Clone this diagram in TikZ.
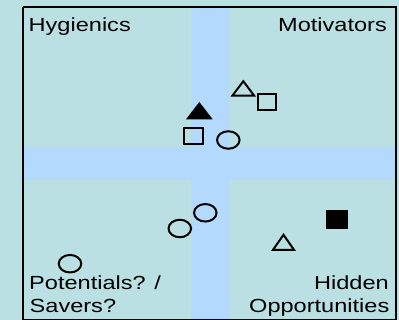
\documentclass[tikz,border=0pt]{standalone}
\usepackage{fontspec}
\setmainfont{Liberation Sans}
\usepackage{graphicx}
\definecolor{paneteal}{RGB}{186,224,227}
\definecolor{bandblue}{RGB}{179,217,252}
\newcommand{\widelabel}[1]{\scalebox{1.24}[1]{#1}}
\tikzset{
  quadlabel/.style={inner sep=0pt, font=\fontsize{19}{23}\selectfont, text=black},
  outline/.style={draw=black, line width=2pt},
  solid shape/.style={fill=black},
  framing/.style={line width=2pt},
}
\begin{document}
\begin{tikzpicture}[x=1pt, y=-1pt]
  \useasboundingbox (0,0) rectangle (399,320);
  % background
  \fill[paneteal] (0,0) rectangle (399,320);
  % crossing bands
  \fill[bandblue] (190.5,7) rectangle (229,320);
  \fill[bandblue] (22,147) rectangle (395.5,180);
  % frame
  \draw[framing] (23,7) -- (395.5,7) -- (395.5,320.5);
  \draw[framing] (23,7) -- (23,320.5);
  \draw[framing] (23,320.5) -- (395.5,320.5);

  % quadrant labels
  \node[quadlabel, anchor=base west] (hyg) at (28.5,32) {\widelabel{Hygienics}};
  \node[quadlabel, anchor=base east] (mot) at (387,32) {\widelabel{Motivators}};
  \node[quadlabel, anchor=base west] (potA) at (29,289.5) {\widelabel{Potentials? /}};
  \node[quadlabel, anchor=base west] (potB) at (29.5,313) {\widelabel{Savers?}};
  \node[quadlabel, anchor=base east] (hidA) at (389,289.5) {\widelabel{Hidden}};
  \node[quadlabel, anchor=base east] (hidB) at (389.5,313) {\widelabel{Opportunities}};

  % circles
  \draw[outline] (228.3,140) ellipse [x radius=11.25pt, y radius=8.75pt];
  \draw[outline] (205.3,212.8) ellipse [x radius=11.25pt, y radius=8.75pt];
  \draw[outline] (179.8,228.5) ellipse [x radius=11.25pt, y radius=8.75pt];
  \draw[outline] (70,263.7) ellipse [x radius=11.25pt, y radius=8.75pt];

  % squares
  \draw[outline] (183.7,127.7) rectangle (203,144);
  \draw[outline] (257.7,93.7) rectangle (276.3,109.7);
  \fill[solid shape] (325.7,210) rectangle (347.7,229);

  % triangles
  \fill[solid shape] (199.3,102) -- (212.7,119.3) -- (186,119.3) -- cycle;
  \draw[outline] (243.3,81.2) -- (254.2,95.7) -- (232.4,95.7) -- cycle;
  \draw[outline] (283.5,234.8) -- (294.1,250) -- (272.9,250) -- cycle;
\end{tikzpicture}
\end{document}
